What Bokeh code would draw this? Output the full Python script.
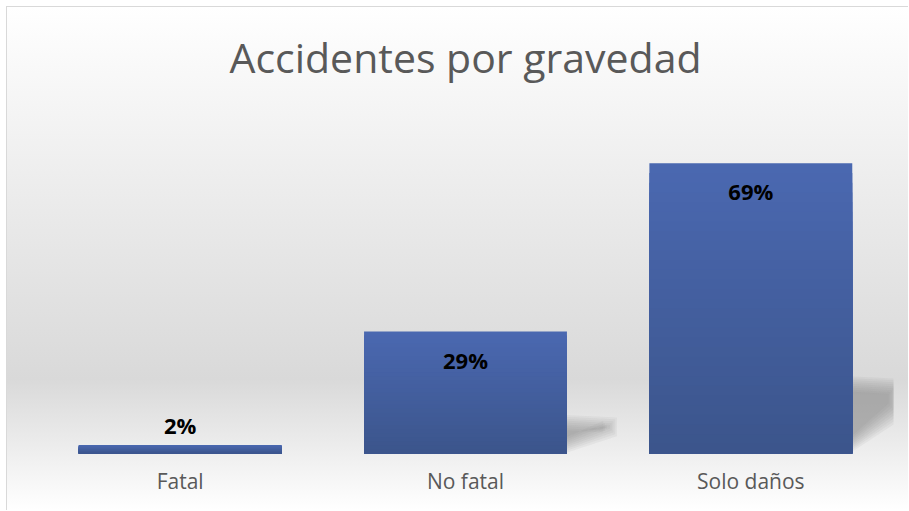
from bokeh.plotting import figure
from bokeh.models import FixedTicker, Range1d
from bokeh.embed import file_html
from bokeh.resources import INLINE
from bokeh.core.properties import value

categories = ["Fatal", "No fatal", "Solo daños"]
percentages = [2, 29, 69]
labels = ["2%", "29%", "69%"]
title_text = "Accidentes por gravedad"

positions = [i + 0.5 for i in range(len(categories))]
BAR_W = 0.711
Y_MAX = 83

p = figure(width=902, height=504, output_backend="svg", toolbar_location=None,
           x_range=Range1d(0, len(categories)), y_range=Range1d(0, Y_MAX),
           min_border_left=30, min_border_right=16, min_border_top=60,
           min_border_bottom=58)
p.border_fill_alpha = 0
p.background_fill_alpha = 0
p.outline_line_color = None
p.styles = {
    "background-image": "linear-gradient(to bottom, #ffffff 0%, #f2f2f2 25%, #d9d9d9 74%, #ffffff 100%)",
    "border-left": "1px solid #d9d9d9",
    "border-top": "1px solid #d9d9d9",
    "margin-left": "6px",
    "margin-top": "6px",
}
p.grid.visible = False
p.yaxis.visible = False

p.title.text = title_text
p.title.align = "center"
p.title.text_font = "Open Sans"
p.title.text_font_size = "41px"
p.title.text_font_style = "normal"
p.title.text_color = "#595959"
p.title.standoff = 39

# soft perspective shadows (layered patches)
sx, sy = [], []
L = 9
for j in range(L):
    for xc, v in zip(positions, percentages):
        if v < 5:
            continue
        xr = xc + BAR_W / 2
        h = 0.23 * v + 2.5
        d = 0.175
        ex = j * 0.006
        ey = j * 0.45
        sx.append([xr - 0.01, xr - 0.01, xr + d - ex, xr + d - ex])
        sy.append([ey, h - ey, h - ey - 0.6, 0.45 * h + ey])
p.patches(xs=sx, ys=sy, fill_color="#7a7a7a", fill_alpha=0.075, line_color=None)

# bars with vertical gradient (overlapping layers)
N = 30
top_c = (0x4a, 0x68, 0xb0)
bot_c = (0x3c, 0x55, 0x8c)
bx, btop, bcol = [], [], []
for k in range(N):
    t = k / (N - 1)
    c = tuple(int(round(a + (b - a) * t)) for a, b in zip(top_c, bot_c))
    col = "#%02x%02x%02x" % c
    for xc, v in zip(positions, percentages):
        bx.append(xc)
        btop.append(v * (1 - k / N))
        bcol.append(col)
p.vbar(x=bx, top=btop, bottom=0, width=BAR_W, fill_color=bcol, line_color=None)

offsets = [-20 if v < 10 else 28 for v in percentages]
p.text(x=positions, y=percentages, text=labels, y_offset=offsets,
       text_align="center", text_baseline="middle",
       text_font=value("Open Sans"), text_font_style="bold",
       text_font_size="22px", text_color="black")

p.xaxis.ticker = FixedTicker(ticks=positions)
p.xaxis.major_label_overrides = {pos: cat for pos, cat in zip(positions, categories)}
p.xaxis.axis_line_color = None
p.xaxis.major_tick_line_color = None
p.xaxis.minor_tick_line_color = None
p.xaxis.major_tick_out = 0
p.xaxis.major_label_standoff = 13
p.xaxis.major_label_text_font = "Open Sans"
p.xaxis.major_label_text_font_size = "21px"
p.xaxis.major_label_text_color = "#595959"

open("out.html", "w").write(file_html(p, INLINE))
